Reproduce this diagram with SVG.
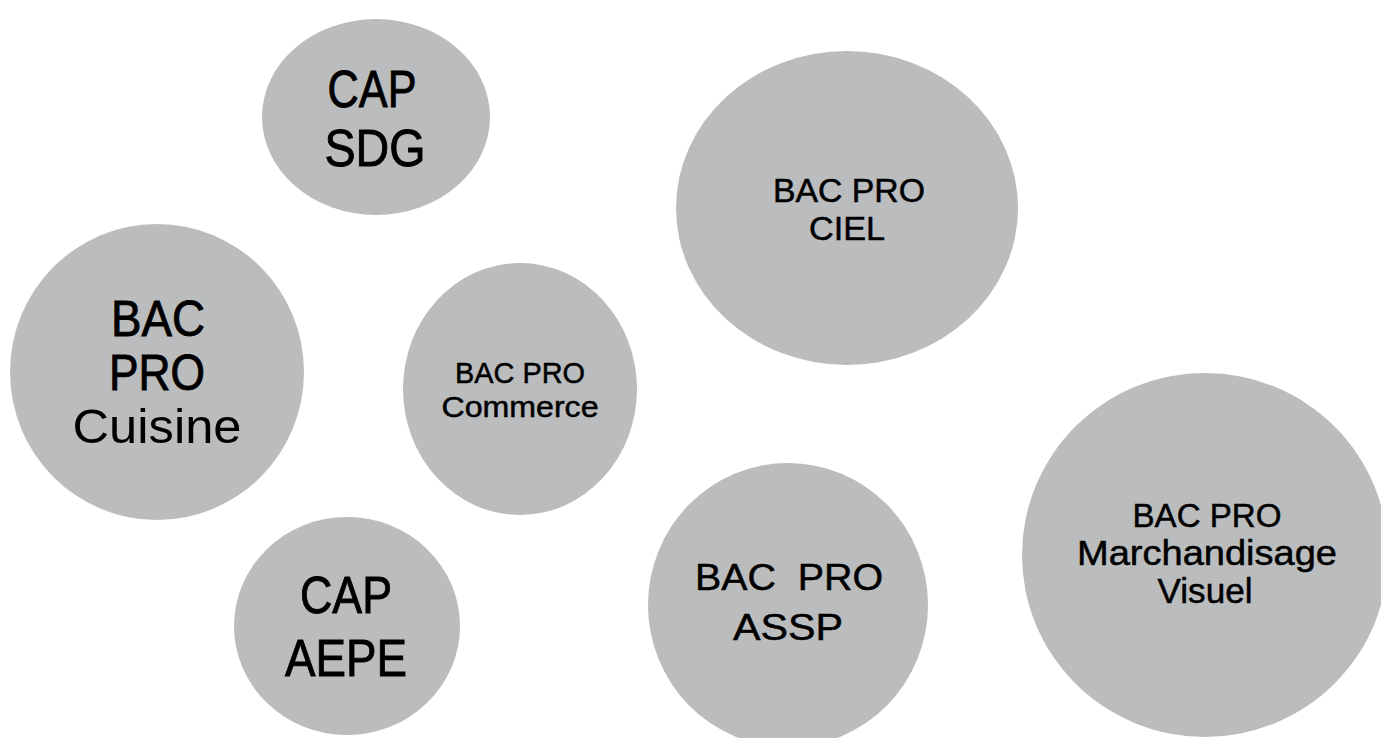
<svg xmlns="http://www.w3.org/2000/svg" width="1381" height="738" viewBox="0 0 1381 738">
<style>
.c{fill:#bbbcbe;stroke:none}
.t{font-family:"Liberation Sans",Arial,sans-serif;fill:#000;stroke:#000;stroke-width:0.9;text-anchor:middle}
.s{stroke-width:0.5}
.l{font-family:"Liberation Sans",Arial,sans-serif;fill:#000;text-anchor:middle}
</style>
<rect width="1381" height="738" fill="#fff"/>
<g id="connectors"></g>
<g id="cap-sdg">
<ellipse class="c" cx="376" cy="117" rx="114" ry="98"/>
<text class="t" x="372" y="107" font-size="52" textLength="89" lengthAdjust="spacingAndGlyphs">CAP</text>
<text class="t" x="375" y="166" font-size="52" textLength="101" lengthAdjust="spacingAndGlyphs">SDG</text>
</g>
<g id="bac-pro-cuisine">
<ellipse class="c" cx="157" cy="372" rx="147" ry="148"/>
<text class="t" x="158" y="336" font-size="50" textLength="94" lengthAdjust="spacingAndGlyphs">BAC</text>
<text class="t" x="157" y="390" font-size="50" textLength="96" lengthAdjust="spacingAndGlyphs">PRO</text>
<text class="l" x="157" y="443" font-size="48" textLength="169" lengthAdjust="spacingAndGlyphs">Cuisine</text>
</g>
<g id="bac-pro-commerce">
<ellipse class="c" cx="520" cy="389" rx="117" ry="126"/>
<text class="t s" x="520" y="383" font-size="29" textLength="130" lengthAdjust="spacingAndGlyphs">BAC PRO</text>
<text class="t s" x="520" y="417" font-size="29" textLength="157" lengthAdjust="spacingAndGlyphs">Commerce</text>
</g>
<g id="cap-aepe">
<ellipse class="c" cx="347" cy="626" rx="113" ry="109"/>
<text class="t" x="346" y="613" font-size="52" textLength="92" lengthAdjust="spacingAndGlyphs">CAP</text>
<text class="t" x="346" y="676" font-size="52" textLength="122" lengthAdjust="spacingAndGlyphs">AEPE</text>
</g>
<g id="bac-pro-ciel">
<ellipse class="c" cx="847" cy="208" rx="171" ry="157"/>
<text class="t s" x="849" y="202" font-size="33" textLength="152" lengthAdjust="spacingAndGlyphs">BAC PRO</text>
<text class="t s" x="847" y="240" font-size="33" textLength="76" lengthAdjust="spacingAndGlyphs">CIEL</text>
</g>
<g id="bac-pro-assp">
<ellipse class="c" cx="788" cy="605" rx="140" ry="142"/>
<text class="t s" x="789" y="590" font-size="37" textLength="188" lengthAdjust="spacingAndGlyphs" style="white-space:pre">BAC  PRO</text>
<text class="t s" x="788" y="640" font-size="37" textLength="110" lengthAdjust="spacingAndGlyphs">ASSP</text>
</g>
<g id="bac-pro-marchandisage-visuel">
<ellipse class="c" cx="1205" cy="555" rx="183" ry="182"/>
<text class="t s" x="1207" y="527" font-size="33" textLength="149" lengthAdjust="spacingAndGlyphs">BAC PRO</text>
<text class="t s" x="1207" y="565" font-size="35" textLength="260" lengthAdjust="spacingAndGlyphs">Marchandisage</text>
<text class="t s" x="1205" y="603" font-size="35" textLength="95" lengthAdjust="spacingAndGlyphs">Visuel</text>
</g>
</svg>
